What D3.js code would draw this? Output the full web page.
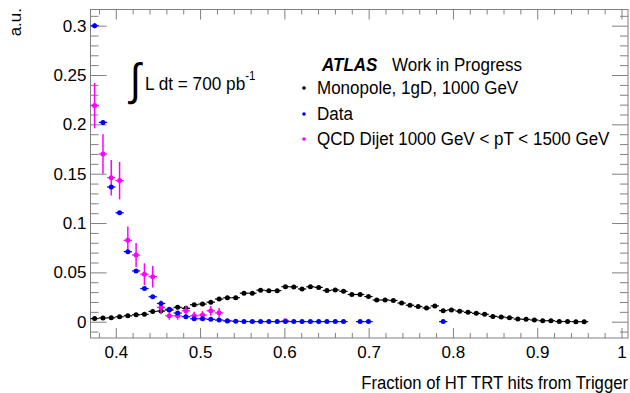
<!DOCTYPE html>
<html>
<head>
<meta charset="utf-8">
<script src="https://cdn.jsdelivr.net/npm/d3@7/dist/d3.min.js"></script>
<style>
  html, body { margin: 0; padding: 0; background: #fff; }
  svg { display: block; }
  text { font-family: "Liberation Sans", Arial, Helvetica, sans-serif; fill: #000; }
</style>
</head>
<body>
<svg id="chart" width="630" height="393"></svg>
<script>
// ---------------- data ----------------
const binWidth = 0.00984;
const binCenters = [
  0.3749, 0.3848, 0.3946, 0.4045, 0.4143, 0.4241, 0.4340, 0.4438, 0.4537, 0.4635,
  0.4734, 0.4832, 0.4930, 0.5029, 0.5127, 0.5226, 0.5324, 0.5423, 0.5521, 0.5620,
  0.5718, 0.5816, 0.5915, 0.6013, 0.6112, 0.6210, 0.6309, 0.6407, 0.6505, 0.6604,
  0.6702, 0.6801, 0.6899, 0.6998, 0.7096, 0.7195, 0.7293, 0.7391, 0.7490, 0.7588,
  0.7687, 0.7785, 0.7884, 0.7982, 0.8080, 0.8179, 0.8277, 0.8376, 0.8474, 0.8573,
  0.8671, 0.8770, 0.8868, 0.8966, 0.9065, 0.9163, 0.9262, 0.9360, 0.9459, 0.9557
];
const monopoleValues = [
  0.0032, 0.0038, 0.0040, 0.0050, 0.0060, 0.0070, 0.0075, 0.0104, 0.0108, 0.0118,
  0.0146, 0.0136, 0.0172, 0.0179, 0.0198, 0.0230, 0.0243, 0.0243, 0.0289, 0.0289,
  0.0320, 0.0315, 0.0315, 0.0355, 0.0353, 0.0332, 0.0354, 0.0348, 0.0316, 0.0321,
  0.0308, 0.0276, 0.0276, 0.0255, 0.0220, 0.0220, 0.0215, 0.0189, 0.0167, 0.0154,
  0.0139, 0.0160, 0.0112, 0.0120, 0.0107, 0.0095, 0.0085, 0.0075, 0.0054, 0.0048,
  0.0041, 0.0027, 0.0024, 0.0017, 0.0010, 0.0010, 0.0002, 0.0002, 0.0000, 0.0000
];
const monopoleErrors = monopoleValues.map(() => 0.0005);
const dataValues = [
  0.3000, 0.2020, 0.1365, 0.1104, 0.0710, 0.0515, 0.0336, 0.0253, 0.0185, 0.0127,
  0.0088, 0.0051, 0.0030, 0.0030, 0.0024, 0.0017, 0.0008, 0.0005, 0.0002, 0.0001,
  0.0001, 0.0001, 0.0001, 0.0001, 0.0001, 0.0001, 0.0001, 0.0001, 0.0001, 0.0001,
  0.0001, null,   0.0001, 0.0001, null,   null,   null,   null,   null,   null,
  null,   null,   0.0001, null,   null,   null,   null,   null,   null,   null,
  null,   null,   null,   null,   null,   null,   null,   null,   null,   null
];
const dataErrors = [
  0.0025, 0.0020, 0.0017, 0.0015, 0.0012, 0.0010, 0.0008, 0.0007, 0.0006, 0.0005,
  0.0004, 0.0003, 0.0002, 0.0002, 0.0002, 0.0002, 0.0001, 0.0001, 0.0001, 0.0001,
  0.0001, 0.0001, 0.0001, 0.0001, 0.0001, 0.0001, 0.0001, 0.0001, 0.0001, 0.0001,
  0.0001, 0, 0.0001, 0.0001, 0, 0, 0, 0, 0, 0,
  0, 0, 0.0001, 0, 0, 0, 0, 0, 0, 0,
  0, 0, 0, 0, 0, 0, 0, 0, 0, 0
];
const qcdValues = [
  0.2190, 0.1700, 0.1460, 0.1430, 0.0825, 0.0676, 0.0482, 0.0456, 0.0145, 0.0060,
  0.0060, 0.0111, 0.0060, 0.0068, 0.0110, 0.0090, 0.0010, null,   null,   null,
  null,   null,   null,   0.0010, null,   null,   null,   null,   null,   null,
  null,   null,   null,   null,   null,   null,   null,   null,   null,   null,
  null,   null,   null,   null,   null,   null,   null,   null,   null,   null,
  null,   null,   null,   null,   null,   null,   null,   null,   null,   null
];
const qcdErrors = [
  0.0230, 0.0200, 0.0180, 0.0190, 0.0140, 0.0122, 0.0110, 0.0110, 0.0070, 0.0040,
  0.0040, 0.0050, 0.0040, 0.0040, 0.0050, 0.0048, 0.0010, 0, 0, 0,
  0, 0, 0, 0.0010, 0, 0, 0, 0, 0, 0,
  0, 0, 0, 0, 0, 0, 0, 0, 0, 0,
  0, 0, 0, 0, 0, 0, 0, 0, 0, 0,
  0, 0, 0, 0, 0, 0, 0, 0, 0, 0
];
const seriesNames = ["Monopole, 1gD, 1000 GeV", "Data", "QCD Dijet 1000 GeV < pT < 1500 GeV"];
const seriesColors = ["#000000", "#0000ff", "#ff00ff"];
const xTickValues = [0.4, 0.5, 0.6, 0.7, 0.8, 0.9, 1.0];
const xTickLabels = ["0.4", "0.5", "0.6", "0.7", "0.8", "0.9", "1"];
const yTickValues = [0, 0.05, 0.1, 0.15, 0.2, 0.25, 0.3];
const yTickLabels = ["0", "0.05", "0.1", "0.15", "0.2", "0.25", "0.3"];
const xTitle = "Fraction of HT TRT hits from Trigger";
const yTitle = "a.u.";

// ---------------- layout ----------------
const L = 90.5, R = 628, T = 9.5, B = 338;
const svg = d3.select("#chart");
const x = d3.scaleLinear().domain([0.37, 1.0077]).range([L, R]);
const y = d3.scaleLinear().domain([-0.0165, 0.3164]).range([B, T]);
const axisColor = "#808080";
const STRETCH = 1.07;

const xMinor = d3.range(0.38, 1.0001, 0.02).filter(v => !xTickValues.some(t => Math.abs(t - v) < 1e-6));
const yMinor = d3.range(-0.01, 0.3101, 0.01).filter(v => !yTickValues.some(t => Math.abs(t - v) < 1e-6));

function styleAxis(g) {
  g.select(".domain").remove();
  g.selectAll("line").attr("stroke", axisColor).attr("stroke-width", 1);
}

// bottom axis
svg.append("g").attr("transform", `translate(0,${B})`)
  .call(d3.axisBottom(x).tickValues(xMinor).tickSize(-5).tickFormat(""))
  .call(styleAxis);
svg.append("g").attr("transform", `translate(0,${B})`)
  .call(d3.axisBottom(x).tickValues(xTickValues).tickSize(-10).tickPadding(8)
    .tickFormat((d, i) => xTickLabels[i]))
  .call(styleAxis)
  .call(g => g.selectAll("text").attr("font-size", 17).attr("fill", "#000")
    .attr("font-family", '"Liberation Sans", Arial, sans-serif'));
// top axis
svg.append("g").attr("transform", `translate(0,${T})`)
  .call(d3.axisTop(x).tickValues(xMinor).tickSize(-5).tickFormat(""))
  .call(styleAxis);
svg.append("g").attr("transform", `translate(0,${T})`)
  .call(d3.axisTop(x).tickValues(xTickValues).tickSize(-10).tickFormat(""))
  .call(styleAxis);
// left axis
svg.append("g").attr("transform", `translate(${L},0)`)
  .call(d3.axisLeft(y).tickValues(yMinor).tickSize(-8).tickFormat(""))
  .call(styleAxis);
svg.append("g").attr("transform", `translate(${L},0)`)
  .call(d3.axisLeft(y).tickValues(yTickValues).tickSize(-16).tickPadding(4)
    .tickFormat((d, i) => yTickLabels[i]))
  .call(styleAxis)
  .call(g => g.selectAll("text").attr("font-size", 17).attr("fill", "#000")
    .attr("font-family", '"Liberation Sans", Arial, sans-serif'));
// right axis
svg.append("g").attr("transform", `translate(${R},0)`)
  .call(d3.axisRight(y).tickValues(yMinor).tickSize(-8).tickFormat(""))
  .call(styleAxis);
svg.append("g").attr("transform", `translate(${R},0)`)
  .call(d3.axisRight(y).tickValues(yTickValues).tickSize(-16).tickFormat(""))
  .call(styleAxis);

// frame
svg.append("rect").attr("x", L).attr("y", T).attr("width", R - L).attr("height", B - T)
  .attr("fill", "none").attr("stroke", axisColor).attr("stroke-width", 1);

// ---------------- series ----------------
function drawSeries(values, errors, color, vlw) {
  const pts = binCenters.map((c, i) => ({ c, v: values[i], e: errors[i] }))
    .filter(d => d.v !== null);
  const g = svg.append("g");
  g.selectAll("line.h").data(pts).join("line")
    .attr("x1", d => x(d.c - binWidth / 2)).attr("x2", d => x(d.c + binWidth / 2))
    .attr("y1", d => y(d.v)).attr("y2", d => y(d.v))
    .attr("stroke", color).attr("stroke-width", 1.2);
  g.selectAll("line.v").data(pts.filter(d => d.e > 0)).join("line")
    .attr("x1", d => x(d.c)).attr("x2", d => x(d.c))
    .attr("y1", d => y(d.v - d.e)).attr("y2", d => y(d.v + d.e))
    .attr("stroke", color).attr("stroke-width", vlw);
  g.selectAll("circle").data(pts).join("circle")
    .attr("cx", d => x(d.c)).attr("cy", d => y(d.v)).attr("r", 2.5)
    .attr("fill", color);
}
drawSeries(monopoleValues, monopoleErrors, seriesColors[0], 1.2);
drawSeries(qcdValues, qcdErrors, seriesColors[2], 1.5);
drawSeries(dataValues, dataErrors, seriesColors[1], 1.2);

// ---------------- texts ----------------
function label(px, py, str, size, sx, sy) {
  return svg.append("text")
    .attr("transform", `translate(${px},${py}) scale(${sx || 1},${sy || STRETCH})`)
    .attr("font-size", size).text(str);
}
// y title
svg.append("text").attr("transform", "translate(21,8) rotate(-90)")
  .attr("text-anchor", "end").attr("font-size", 17).text(yTitle);
// x title
label(628, 389, xTitle, 16.7).attr("text-anchor", "end");

// luminosity
svg.append("text")
  .attr("transform", "translate(130,95) scale(1.1,1.25)")
  .attr("font-family", '"Liberation Sans", Arial, sans-serif')
  .attr("font-size", 36).text("∫");
const lum = svg.append("text")
  .attr("transform", `translate(145,90) scale(1,1.12)`).attr("font-size", 17.2);
lum.append("tspan").text("L dt = 700 pb");
lum.append("tspan").attr("font-size", 11.5).attr("dy", -8.5).text("-1");

// ATLAS label
label(322, 71, "ATLAS", 17).attr("font-weight", "bold").attr("font-style", "italic");
label(392, 71, "Work in Progress", 17);

// legend
const legendY = [94, 120, 145];
seriesNames.forEach((name, i) => {
  svg.append("circle").attr("cx", 304).attr("cy", legendY[i] - 6).attr("r", 1.8)
    .attr("fill", seriesColors[i]);
  label(317, legendY[i], name, 17);
});
</script>
</body>
</html>
